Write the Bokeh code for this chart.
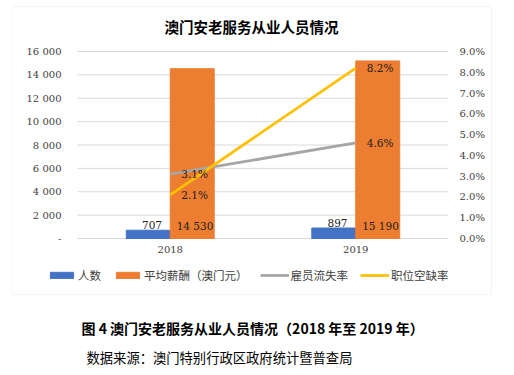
from bokeh.plotting import figure
from bokeh.models import (Range1d, LinearAxis, FactorRange, ColumnDataSource, Label,
                          FixedTicker, Legend, LegendItem, BoxAnnotation)
from bokeh.transform import dodge
from bokeh.embed import file_html
from bokeh.resources import INLINE
from bokeh.core.properties import value

# ---- data ----
years = ["2018", "2019"]
headcount = [707, 897]
salary = [14530, 15190]
turnover = [3.1, 4.6]      # 雇员流失率 %
vacancy = [2.1, 8.2]       # 职位空缺率 %
left_ticks = [0, 2000, 4000, 6000, 8000, 10000, 12000, 14000, 16000]
left_labels = ["-", "2 000", "4 000", "6 000", "8 000", "10 000", "12 000", "14 000", "16 000"]
right_ticks = [0, 1, 2, 3, 4, 5, 6, 7, 8, 9]
right_labels = ["0.0%", "1.0%", "2.0%", "3.0%", "4.0%", "5.0%", "6.0%", "7.0%", "8.0%", "9.0%"]

title_text = "澳门安老服务从业人员情况"
caption_text = "图 4 澳门安老服务从业人员情况（2018 年至 2019 年）"
source_text = "数据来源：澳门特别行政区政府统计暨普查局"

CJK = "Noto Sans CJK SC"
NUM = "DejaVu Serif"
BLUE, ORANGE, GRAY, YELLOW = "#4472C4", "#ED7D31", "#A5A5A5", "#FFC000"

# ---- pixel layout (canvas coordinates) ----
W, H = 513, 367
FL, FR, FT, FB = 12, 513, 5, 367          # frame (covers box + caption)
PL, PR, PT, PB = 77, 448, 51, 238         # plot area inside the box
YMAX, PMAX = left_ticks[-1], right_ticks[-1]

ux = (PR - PL) / len(years)               # px per category
uy = (PB - PT) / YMAX                     # px per unit (left)
up = (PB - PT) / PMAX                     # px per unit (right)


def X(px):
    return (px - PL) / ux


def Y(py):
    return (PB - py) / uy


src = ColumnDataSource(dict(
    year=years, headcount=headcount, salary=salary,
    turnover=turnover, vacancy=vacancy,
    hc_lbl=[f"{v:,}".replace(",", " ") for v in headcount],
    sal_lbl=[f"{v:,}".replace(",", " ") for v in salary],
    to_lbl=[f"{v:.1f}%" for v in turnover],
    va_lbl=[f"{v:.1f}%" for v in vacancy],
))
grid_src = ColumnDataSource(dict(g0=[years[0]] * len(left_ticks),
                                 g1=[years[-1]] * len(left_ticks), gy=left_ticks,
                                 glbl=left_labels))

xr = FactorRange(*years, range_padding=(PL - FL) / ux, range_padding_units="absolute")
p = figure(width=W, height=H, x_range=xr,
           y_range=Range1d(-(FB - PB) / uy, YMAX + (PT - FT) / uy),
           output_backend="svg", toolbar_location=None,
           x_axis_location=None, y_axis_location=None,
           min_border_left=FL, min_border_right=W - FR, min_border_top=FT,
           min_border_bottom=H - FB)
p.extra_y_ranges = {"pct": Range1d(-(FB - PB) / up, PMAX + (PT - FT) / up)}
p.outline_line_color = None
p.background_fill_color = "white"
p.border_fill_color = "white"
p.grid.visible = False

# right (percent) axis, labels pulled inward into the box
ra = LinearAxis(y_range_name="pct", ticker=FixedTicker(ticks=right_ticks))
ra.major_label_overrides = {t: l for t, l in zip(right_ticks, right_labels)}
ra.axis_line_color = None
ra.major_tick_line_color = None
ra.minor_tick_line_color = None
ra.major_tick_out = 0
ra.major_tick_in = 0
ra.minor_tick_out = 0
ra.minor_tick_in = 0
ra.major_label_standoff = -(FR - 459)
ra.major_label_text_font = NUM
ra.major_label_text_font_size = "10px"
ra.major_label_text_color = "#404040"
p.add_layout(ra, "right")

# horizontal gridlines across the plot area
p.segment(x0=dodge("g0", -0.5, range=xr), x1=dodge("g1", 0.5, range=xr), y0="gy", y1="gy",
          source=grid_src, line_color="#d9d9d9", line_width=1)
# left value labels (right-aligned against the plot area)
p.text(x=dodge("g0", -0.5, range=xr), y="gy", text="glbl", source=grid_src,
       text_font=value(NUM), text_font_size="10px", text_color="#404040",
       text_align="right", text_baseline="middle", x_offset=-(PL - 61))

# glyphs
bw = 0.237
r_hc = p.vbar(x=dodge("year", -bw / 2, range=xr), top="headcount", width=bw,
              source=src, color=BLUE)
r_sal = p.vbar(x=dodge("year", bw / 2, range=xr), top="salary", width=bw,
               source=src, color=ORANGE)
r_to = p.line(x="year", y="turnover", y_range_name="pct", source=src, color=GRAY, line_width=2.75)
r_va = p.line(x="year", y="vacancy", y_range_name="pct", source=src, color=YELLOW, line_width=2.75)

# category labels
p.text(x="year", y=0, text="year", source=src, text_font=value(NUM), text_font_size="10px",
       text_color="#404040", text_align="center", text_baseline="top", y_offset=7)

# data labels
lbl_kw = dict(source=src, text_font=value(NUM), text_font_size="10.5px", text_color="#202020")
p.text(x=dodge("year", -bw / 2 + 0.02, range=xr), y="headcount", text="hc_lbl",
       text_align="center", text_baseline="bottom", y_offset=-1, **lbl_kw)
p.text(x=dodge("year", bw / 2 + 0.015, range=xr), y=0, text="sal_lbl",
       text_align="center", text_baseline="bottom", y_offset=-7, **lbl_kw)
p.text(x="year", y="turnover", y_range_name="pct", text="to_lbl",
       text_align="left", text_baseline="middle", x_offset=11, **lbl_kw)
p.text(x="year", y="vacancy", y_range_name="pct", text="va_lbl",
       text_align="left", text_baseline="middle", x_offset=11, **lbl_kw)

# legend
legend = Legend(items=[
    LegendItem(label="人数", renderers=[r_hc]),
    LegendItem(label="平均薪酬（澳门元）", renderers=[r_sal]),
    LegendItem(label="雇员流失率", renderers=[r_to]),
    LegendItem(label="职位空缺率", renderers=[r_va]),
], orientation="horizontal", location=(47 - FL, FB - 283),
    label_text_font=CJK, label_text_font_size="11.5px", label_text_color="#404040",
    glyph_width=29, glyph_height=8, label_height=14, label_standoff=2, spacing=12,
    border_line_color=None, background_fill_alpha=0, padding=0, margin=0)
p.add_layout(legend, "center")

# chart box border
p.add_layout(BoxAnnotation(left=X(12), right=X(491), top=Y(6), bottom=Y(294),
                           fill_alpha=0, line_color="#d9d9d9", line_width=1))

# titles / captions
p.add_layout(Label(x=X(251), y=Y(26), text=title_text, text_font=CJK, text_font_size="14.5px",
                   text_font_style="bold", text_align="center", text_baseline="middle",
                   text_color="#000000"))
p.add_layout(Label(x=X(81), y=Y(327), text=caption_text, text_font=CJK, text_font_size="14px",
                   text_font_style="bold", text_align="left", text_baseline="middle",
                   text_color="#000000"))
p.add_layout(Label(x=X(86), y=Y(357), text=source_text, text_font=CJK, text_font_size="13.3px",
                   text_align="left", text_baseline="middle", text_color="#000000"))

open("out.html", "w").write(file_html(p, INLINE))
